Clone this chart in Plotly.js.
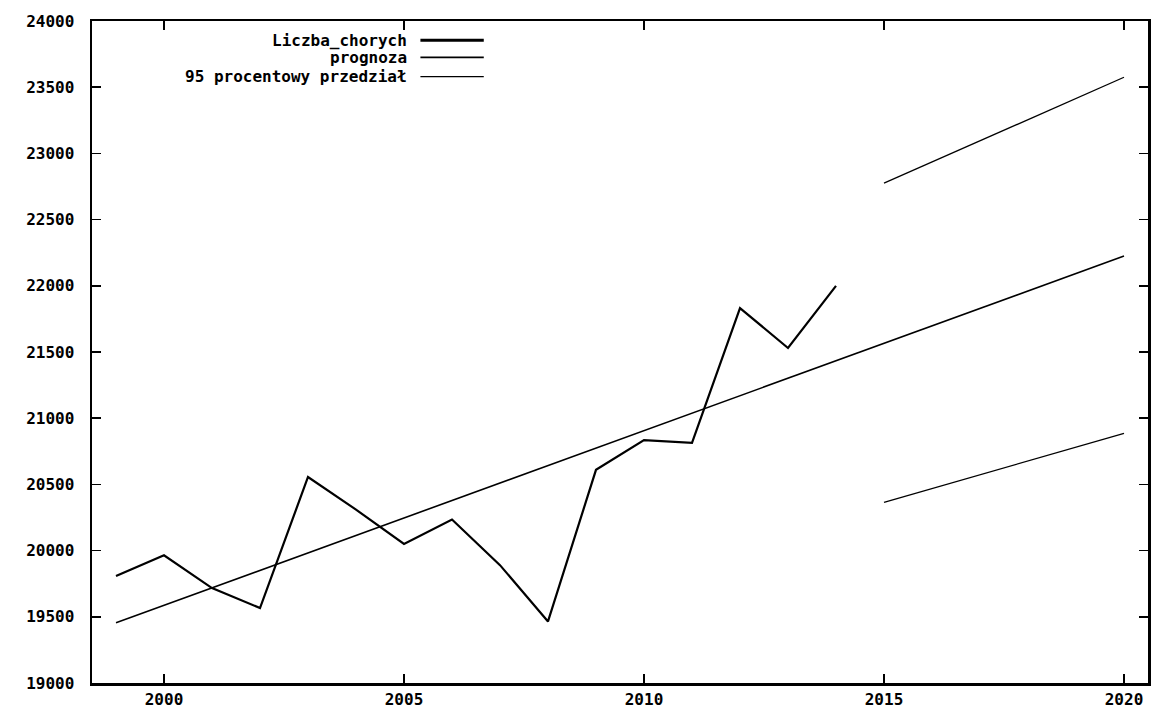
<!DOCTYPE html>
<html>
<head>
<meta charset="utf-8">
<script src="https://cdn.plot.ly/plotly-3.0.1.min.js"></script>
<style>
  html, body { margin: 0; padding: 0; background: #fff; }
  #chart { width: 1155px; height: 710px; }
</style>
</head>
<body>
<div id="chart"></div>
<script>
// Observed number of cases per year
const years = [1999, 2000, 2001, 2002, 2003, 2004, 2005, 2006, 2007, 2008, 2009, 2010, 2011, 2012, 2013, 2014];
const liczbaChorych = [19808, 19965, 19717, 19566, 20556, 20310, 20050, 20235, 19890, 19465, 20610, 20835, 20813, 21832, 21530, 22000];

// Linear trend (forecast) endpoints
const prognozaYears = [1999, 2020];
const prognoza = [19455, 22225];

// 95% interval bounds for the forecast horizon
const przedzialYears = [2015, 2020];
const przedzialGorny = [22775, 23575];
const przedzialDolny = [20365, 20885];

const seriesNames = ['Liczba_chorych', 'prognoza', '95 procentowy przedział'];
const lineWidths = [2.2, 1.6, 1.3];

const traces = [
  { x: years, y: liczbaChorych, name: seriesNames[0], mode: 'lines',
    line: { color: '#000', width: lineWidths[0] } },
  { x: prognozaYears, y: prognoza, name: seriesNames[1], mode: 'lines',
    line: { color: '#000', width: lineWidths[1] } },
  { x: przedzialYears.concat([null], przedzialYears),
    y: przedzialGorny.concat([null], przedzialDolny),
    name: seriesNames[2], mode: 'lines', connectgaps: false,
    line: { color: '#000', width: lineWidths[2] } }
];

const textFont = { family: 'DejaVu Sans Mono', size: 16, color: '#000', weight: 'bold' };

// Key drawn gnuplot-style: right-aligned text followed by a line sample
const keyRows = [0.971, 0.945, 0.916];
const annotations = seriesNames.map((t, i) => ({
  xref: 'paper', yref: 'paper', x: 0.300, y: keyRows[i],
  xanchor: 'right', yanchor: 'middle', showarrow: false,
  text: t, font: textFont
}));
const shapes = seriesNames.map((t, i) => ({
  type: 'line', xref: 'paper', yref: 'paper',
  x0: 0.311, x1: 0.371, y0: keyRows[i], y1: keyRows[i],
  line: { color: '#000', width: i === 0 ? 3 : lineWidths[i] }
}));

const layout = {
  width: 1155, height: 710,
  margin: { l: 92, r: 7, t: 21, b: 27 },
  paper_bgcolor: '#fff', plot_bgcolor: '#fff',
  showlegend: false,
  xaxis: {
    range: [1998.5, 2020.5], tick0: 2000, dtick: 5, tickformat: 'd',
    showgrid: false, zeroline: false,
    showline: true, linecolor: '#000', linewidth: 2.5, mirror: 'allticks',
    ticks: 'inside', ticklen: 9, tickwidth: 1.5, tickcolor: '#000',
    tickfont: textFont, ticklabelstandoff: 0
  },
  yaxis: {
    range: [19000, 24000], dtick: 500, tickformat: 'd',
    showgrid: false, zeroline: false,
    showline: true, linecolor: '#000', linewidth: 2.5, mirror: 'allticks',
    ticks: 'inside', ticklen: 9, tickwidth: 1.5, tickcolor: '#000',
    tickfont: textFont, ticklabelstandoff: 12
  },
  annotations: annotations,
  shapes: shapes
};

Plotly.newPlot('chart', traces, layout, { displayModeBar: false, staticPlot: true });
</script>
</body>
</html>
